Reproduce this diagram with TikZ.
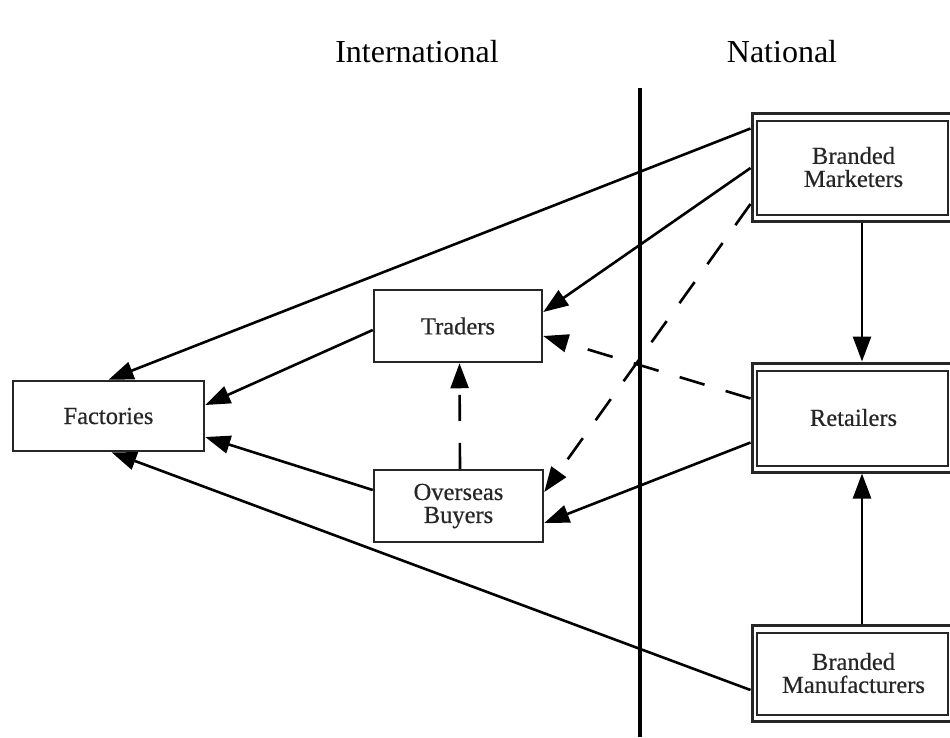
\documentclass[tikz,border=0pt]{standalone}
\usepackage{fontspec}
\setmainfont{Liberation Serif}
\newfontfamily\labelfont[FakeBold=0.5]{Liberation Serif}
\usetikzlibrary{arrows.meta,calc}

\begin{document}
\begin{tikzpicture}[x=1pt,y=-1pt,
  box/.style={draw=black!85, line width=2.5pt, rectangle, align=center,
    font=\labelfont\fontsize{24.5}{23}\selectfont, text=black!85, inner sep=0pt},
  frame/.style={box, line width=3pt},
  inframe/.style={draw=black!85, line width=2pt},
  flow/.style={draw=black, line width=2.6pt,
    -{Triangle[length=25pt,width=18pt]}},
  weakflow/.style={flow, dash pattern=on 26pt off 22pt},
  header/.style={font=\fontsize{32}{32}\selectfont, anchor=base}]

\useasboundingbox (0,0) rectangle (950,737);
\clip (0,0) rectangle (950,737);

% column headings
\node[header] (intl) at (417,62) {International};
\node[header] (natl) at (782,62) {National};

% border between the two sides
\coordinate (divtop) at (640,88);
\coordinate (divbot) at (640,737);
\draw[line width=4pt] (divtop) -- (divbot);

% international side
\node[box, minimum width=191pt, minimum height=70pt] (fac) at (108.5,416) {Factories};
\node[box, minimum width=168pt, minimum height=72pt] (tra) at (458,326) {Traders};
\node[box, minimum width=169pt, minimum height=72pt] (ovb) at (458.5,506) {Overseas\\Buyers};

% national side (double-framed boxes)
\node[frame, minimum width=203pt, minimum height=108pt] (bm) at (853.5,167) {Branded\\Marketers};
\node[frame, minimum width=203pt, minimum height=109pt] (ret) at (853.5,417.5) {Retailers};
\node[frame, minimum width=203pt, minimum height=96pt] (bmf) at (853.5,673) {Branded\\Manufacturers};
\foreach \n in {bm,ret,bmf}
  \draw[inframe] ([shift={(6pt,-9pt)}]\n.north west) rectangle ([shift={(-9pt,8pt)}]\n.south east);

% connectors
\draw[flow] ([yshift=-17pt]bm.north west) -- (fac.north);
\draw[flow] ([yshift=-1pt]bm.west) -- ([yshift=14pt]tra.east);
\draw[weakflow] ([yshift=-37pt]bm.west) -- ([yshift=14pt]ovb.east);
\draw[flow] ([xshift=8.5pt]bm.south) -- ([xshift=8.5pt]ret.north);
\draw[weakflow] ([yshift=19pt]ret.west) -- ([yshift=-10pt]tra.east);
\draw[flow] ([yshift=-25pt]ret.west) -- ([yshift=-17pt]ovb.east);
\draw[flow] ([xshift=8.5pt]bmf.north) -- ([xshift=8.5pt]ret.south);
\draw[flow] ([yshift=-17pt]bmf.west) -- ([xshift=3pt]fac.south);
\draw[flow] ([yshift=-4pt]tra.west) -- ([yshift=11pt]fac.east);
\draw[flow] ([yshift=16pt]ovb.west) -- ([yshift=-21pt]fac.east);
\draw[weakflow] ([xshift=1.5pt]ovb.north) -- ([xshift=1.5pt]tra.south);

\end{tikzpicture}
\end{document}
